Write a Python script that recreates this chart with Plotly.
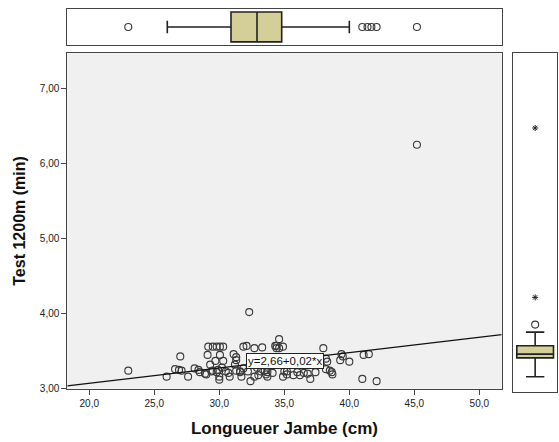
import plotly.graph_objects as go

# ---------------- data ----------------
leg_length = [23.0, 25.95, 26.6, 26.9, 27.1, 27.0, 27.6, 28.1, 28.4, 28.5,
              29.15, 29.5, 29.8, 30.05, 30.3, 29.1, 30.05, 29.7, 30.3, 29.3,
              29.5, 29.9, 30.0, 30.0, 29.0, 30.8, 31.1, 31.3, 31.3, 31.2,
              31.85, 32.1, 32.7, 33.3, 31.85, 31.6, 32.4, 32.7, 33.0, 32.3,
              34.3, 34.6, 34.4, 34.4, 34.9, 34.6, 38.0, 39.4, 39.5, 39.3,
              40.0, 41.1, 41.5, 38.2, 38.3, 38.2, 38.5, 38.65, 38.7, 37.0,
              41.0, 42.1, 33.6, 34.9, 35.2, 35.7, 36.2, 36.5, 33.7, 35.0,
              36.0, 29.4, 29.8, 30.5, 30.7, 31.3, 31.6, 32.2, 33.2, 33.7,
              34.1, 35.2, 45.2, 31.7, 28.9, 30.2, 32.9, 33.5, 36.8, 37.4]
test_1200 = [3.24, 3.16, 3.26, 3.25, 3.24, 3.43, 3.16, 3.27, 3.25, 3.22,
             3.56, 3.56, 3.56, 3.56, 3.56, 3.45, 3.45, 3.37, 3.37, 3.32,
             3.24, 3.25, 3.16, 3.12, 3.19, 3.16, 3.46, 3.42, 3.38, 3.32,
             3.56, 3.57, 3.54, 3.55, 3.27, 3.23, 3.10, 3.16, 3.18, 4.02,
             3.57, 3.66, 3.57, 3.54, 3.56, 3.54, 3.54, 3.46, 3.43, 3.38,
             3.36, 3.45, 3.46, 3.40, 3.36, 3.26, 3.24, 3.22, 3.19, 3.13,
             3.13, 3.10, 3.19, 3.16, 3.19, 3.18, 3.18, 3.21, 3.16, 3.23,
             3.22, 3.23, 3.22, 3.23, 3.21, 3.24, 3.22, 3.23, 3.23, 3.22,
             3.21, 3.23, 6.25, 3.16, 3.20, 3.28, 3.28, 3.24, 3.20, 3.22]

# regression line reported in the chart
reg_intercept = 2.664
reg_slope = 0.0204
reg_label = "y=2,66+0,02*x"

# marginal boxplot of leg length (top)
x_box = dict(lowerfence=26.0, q1=30.9, median=32.9, q3=34.8, upperfence=40.0)
x_outliers = [23.0, 41.0, 41.4, 41.7, 42.1, 45.2]

# marginal boxplot of 1200 m time (right)
y_box = dict(lowerfence=2.96, q1=3.21, median=3.26, q3=3.37, upperfence=3.55)
y_outliers_circle = [3.65]
y_outliers_star = [4.01, 6.25]

x_ticks = [20, 25, 30, 35, 40, 45, 50]
y_ticks = [3, 4, 5, 6, 7]
x_range = [18.31, 51.72]
y_range = [3.0, 7.47]
y_range_right = [2.764, 7.238]

x_title = "Longueuer Jambe (cm)"
y_title = "Test 1200m (min)"

# ---------------- figure ----------------
W, H = 559, 442
FONT = "Arial, Liberation Sans, sans-serif"
box_fill = "#d4cf98"

def fx(px):
    return px / W

def fy(py):
    return (H - py) / H

fig = go.Figure()

# main scatter
fig.add_trace(go.Scatter(
    x=leg_length, y=test_1200, mode="markers",
    marker=dict(symbol="circle-open", size=7, color="#3a3a3a", line=dict(width=1.1)),
    xaxis="x", yaxis="y", showlegend=False, hoverinfo="skip"))

# regression line
xl = x_range
yl = [reg_intercept + reg_slope * v for v in xl]
fig.add_trace(go.Scatter(
    x=xl, y=yl, mode="lines", line=dict(color="#111", width=1.3),
    xaxis="x", yaxis="y", showlegend=False, hoverinfo="skip"))

# top boxplot
fig.add_trace(go.Box(
    y=[0], orientation="h", q1=[x_box["q1"]], median=[x_box["median"]],
    q3=[x_box["q3"]], lowerfence=[x_box["lowerfence"]], upperfence=[x_box["upperfence"]],
    fillcolor=box_fill, line=dict(color="#222", width=1.6), width=0.84,
    whiskerwidth=0.42, boxpoints=False, xaxis="x2", yaxis="y2",
    showlegend=False, hoverinfo="skip"))
fig.add_trace(go.Scatter(
    x=x_outliers, y=[0] * len(x_outliers), mode="markers",
    marker=dict(symbol="circle-open", size=7, color="#3a3a3a", line=dict(width=1.1)),
    xaxis="x2", yaxis="y2", showlegend=False, hoverinfo="skip"))

# right boxplot
fig.add_trace(go.Box(
    x=[0], q1=[y_box["q1"]], median=[y_box["median"]],
    q3=[y_box["q3"]], lowerfence=[y_box["lowerfence"]], upperfence=[y_box["upperfence"]],
    fillcolor=box_fill, line=dict(color="#222", width=1.6), width=0.84,
    whiskerwidth=0.5, boxpoints=False, xaxis="x3", yaxis="y3",
    showlegend=False, hoverinfo="skip"))
fig.add_trace(go.Scatter(
    x=[0] * len(y_outliers_circle), y=y_outliers_circle, mode="markers",
    marker=dict(symbol="circle-open", size=7, color="#3a3a3a", line=dict(width=1.1)),
    xaxis="x3", yaxis="y3", showlegend=False, hoverinfo="skip"))
fig.add_trace(go.Scatter(
    x=[0] * len(y_outliers_star), y=y_outliers_star, mode="markers",
    marker=dict(symbol="asterisk-open", size=5, color="#222", line=dict(width=1)),
    xaxis="x3", yaxis="y3", showlegend=False, hoverinfo="skip"))

main_x_dom = [fx(67.3), fx(501.7)]
main_y_dom = [fy(394), fy(54)]
frame = dict(showline=True, mirror=True, linecolor="#444", linewidth=1,
             showgrid=False, zeroline=False)

fig.update_layout(
    width=W, height=H, margin=dict(l=0, r=0, t=0, b=0),
    paper_bgcolor="white", plot_bgcolor="white",
    separators=",.",
    font=dict(family=FONT, size=10, color="#222"),
    xaxis=dict(domain=main_x_dom, range=x_range, tickvals=x_ticks, tickformat=".1f",
               ticks="outside", ticklen=5, tickcolor="#444",
               title=dict(text="<b>" + x_title + "</b>", font=dict(size=17, color="#111"), standoff=14),
               anchor="y", **frame),
    yaxis=dict(domain=main_y_dom, range=y_range, tickvals=y_ticks, tickformat=".2f",
               ticks="outside", ticklen=5, tickcolor="#444",
               title=dict(text="<b>" + y_title + "</b>", font=dict(size=16, color="#111"), standoff=10),
               anchor="x", **frame),
    xaxis2=dict(domain=main_x_dom, range=x_range, showticklabels=False, ticks="",
                anchor="y2", **frame),
    yaxis2=dict(domain=[fy(45.3), fy(9.3)], range=[-0.5, 0.5], showticklabels=False,
                ticks="", anchor="x2", **frame),
    xaxis3=dict(domain=[fx(513.3), fx(557)], range=[-0.5, 0.5], showticklabels=False,
                ticks="", anchor="y3", **frame),
    yaxis3=dict(domain=[fy(397), fy(54)], range=y_range_right, showticklabels=False,
                ticks="", anchor="x3", **frame),
    shapes=[dict(type="rect", xref="x domain", yref="y domain", x0=0, x1=1, y0=0, y1=1,
                 fillcolor="#f0f0f0", line=dict(width=0), layer="below")],
    annotations=[dict(
        x=35.05, y=3.37, xref="x", yref="y", text=reg_label, showarrow=False,
        font=dict(family=FONT, size=11.5, color="#111"), bgcolor="white",
        bordercolor="#222", borderwidth=1, borderpad=1)],
)

fig.write_html("out.html")
